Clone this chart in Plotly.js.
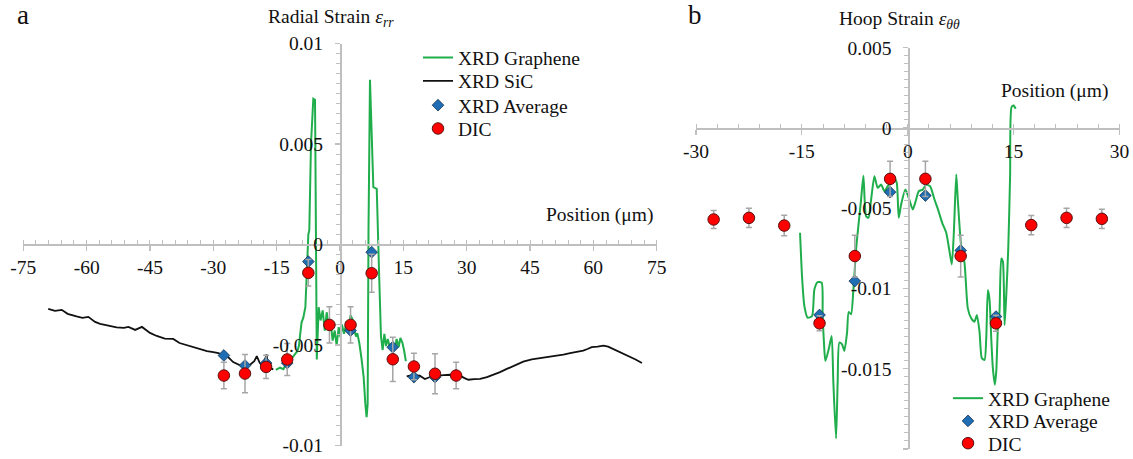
<!DOCTYPE html>
<html><head><meta charset="utf-8">
<script src="https://cdn.plot.ly/plotly-3.0.1.min.js"></script>
<style>html,body{margin:0;padding:0;background:#fff;} #chart{width:1133px;height:459px;}</style>
</head><body><div id="chart"></div>
<script>
// ---------- Panel a: Radial strain ----------
const grapheneRX = [-15.2,-14.2,-13.4,-12.8,-12.0,-11.2,-10.7,-10.1,-9.7,-9.5,-9.1,-8.7,-8.2,-8.0,-7.5,-7.27,-6.87,-6.32,-5.92,-5.84,-5.68,-5.5,-5.05,-4.6,-4.1,-3.6,-3.15,-2.7,-2.2,-1.75,-1.25,-0.8,-0.3,0.1,0.45,0.95,1.6,2.05,2.5,3.0,3.4,3.8,4.1,4.6,5.1,5.6,6.0,6.3,6.55,6.75,7.1,7.5,7.9,8.7,8.9,9.3,9.7,10.1,10.5,10.9,11.3,11.8,12.4,13.0,13.4,13.9,14.3,14.8,15.2,15.6];
const grapheneRY = [-0.00624,-0.00613,-0.0062,-0.00594,-0.00581,-0.00557,-0.00547,-0.00531,-0.00502,-0.00461,-0.00387,-0.00365,-0.00312,-0.0021,0.0005,0.0007,0.0050,0.00725,0.0072,0.0050,0.0007,-0.00572,-0.00312,-0.00378,-0.00328,-0.00428,-0.00337,-0.00411,-0.00387,-0.00478,-0.00428,-0.00502,-0.00411,-0.00461,-0.00398,-0.00444,-0.00382,-0.00428,-0.00353,-0.00375,-0.00428,-0.00458,-0.00441,-0.00494,-0.00569,-0.0066,-0.00793,-0.00859,-0.00793,0.0007,0.00819,0.0055,0.00285,0.00277,0.0007,-0.00174,-0.00456,-0.00525,-0.00445,-0.00505,-0.0047,-0.0051,-0.0049,-0.0052,-0.0047,-0.0051,-0.00465,-0.0049,-0.0053,-0.0058];

const sicLeftX = [-69.1,-67.5,-65.9,-64.5,-62.4,-61.0,-59.6,-58.0,-56.8,-54.8,-52.9,-51.2,-50.1,-48.5,-46.9,-45.0,-43.4,-41.5,-39.5,-38.0,-36.3,-34.7,-33.2,-31.5,-30.0,-28.8,-27.6,-26.5,-25.3,-24.0,-22.9,-21.3,-20.3,-19.7,-19.0,-18.5,-17.8,-17.4,-17.0,-16.4,-15.8];
const sicLeftY = [-0.0032,-0.0033,-0.00325,-0.00345,-0.00358,-0.00365,-0.0036,-0.00385,-0.00395,-0.00405,-0.00412,-0.00415,-0.0041,-0.00425,-0.0041,-0.0044,-0.00455,-0.00468,-0.0047,-0.0049,-0.005,-0.00512,-0.00522,-0.0053,-0.00535,-0.0054,-0.00552,-0.0056,-0.00585,-0.00598,-0.00608,-0.00598,-0.0058,-0.00555,-0.0059,-0.006,-0.00575,-0.00547,-0.0061,-0.00615,-0.00622];
const sicRightX = [15.8,17.0,18.9,20.1,21.5,22.9,24.5,26.1,27.3,28.4,29.5,30.4,31.8,33.2,34.8,36.3,37.9,39.5,41.5,43.4,45.4,47.4,49.3,51.3,52.9,54.5,56.0,57.6,58.6,59.6,61.0,62.4,63.5,65.5,67.0,68.7,70.0,71.5];
const sicRightY = [-0.00656,-0.0065,-0.00653,-0.00669,-0.00658,-0.00653,-0.0065,-0.00648,-0.00652,-0.00653,-0.00665,-0.00673,-0.0067,-0.00669,-0.0066,-0.00649,-0.00635,-0.00619,-0.006,-0.00583,-0.00572,-0.00566,-0.0056,-0.00553,-0.00548,-0.0054,-0.00535,-0.00528,-0.0052,-0.00511,-0.00508,-0.00503,-0.00508,-0.00528,-0.0054,-0.00556,-0.00572,-0.0059];

const avgRX = [-27.5,-22.5,-17.5,-12.5,-7.5,-2.5,2.5,7.5,12.5,17.5,22.5,27.5];
const avgRY = [-0.00552,-0.00602,-0.0059,-0.0059,-0.00085,-0.0040,-0.00428,-0.00038,-0.00511,-0.0066,-0.0066,-0.0065];
const dicRX = [-27.5,-22.5,-17.5,-12.5,-7.5,-2.5,2.5,7.5,12.5,17.5,22.5,27.5];
const dicRY = [-0.00652,-0.00642,-0.00609,-0.00572,-0.00141,-0.0040,-0.0040,-0.00143,-0.00571,-0.00607,-0.00643,-0.00652];
const dicRErr = [0.00066,0.00095,0.00058,0.0008,0.00066,0.0009,0.0009,0.00095,0.0011,0.00066,0.001,0.00066];

// ---------- Panel b: Hoop strain ----------
const grapheneHX = [-15.26,-14.98,-14.65,-14.18,-13.56,-13.23,-12.77,-12.2,-12.06,-11.82,-11.67,-11.2,-10.78,-10.54,-10.16,-9.93,-9.69,-9.31,-8.98,-8.6,-8.37,-8.03,-7.7,-7.32,-6.95,-6.61,-6.28,-5.9,-5.57,-5.19,-4.72,-4.26,-3.77,-3.3,-2.84,-2.35,-1.89,-1.56,-1.28,-0.94,-0.33,0.14,0.71,1.19,1.56,2.13,2.61,3.17,3.79,4.26,4.88,5.45,5.91,6.24,6.53,6.87,7.09,7.57,8.04,8.51,8.99,9.46,9.79,10.17,10.5,10.88,11.12,11.35,11.59,11.83,12.06,12.34,12.54,12.77,13.0,13.25,13.48,13.72,13.96,14.24,14.5,14.7,15.0,15.3];
const grapheneHY = [-0.00653,-0.00923,-0.01109,-0.01182,-0.01172,-0.01006,-0.0096,-0.00964,-0.01172,-0.01379,-0.01452,-0.01379,-0.01296,-0.01586,-0.01934,-0.01586,-0.01337,-0.01348,-0.01389,-0.01275,-0.01147,-0.01161,-0.01006,-0.00757,-0.00591,-0.00446,-0.00297,-0.0055,-0.0056,-0.00446,-0.00301,-0.00373,-0.00353,-0.00394,-0.00363,-0.00342,-0.00317,-0.00342,-0.0056,-0.00477,-0.00384,-0.00435,-0.00508,-0.00446,-0.00394,-0.00384,-0.00353,-0.00363,-0.00446,-0.00504,-0.00591,-0.00653,-0.00767,-0.0085,-0.00653,-0.0029,-0.00446,-0.00736,-0.0084,-0.01124,-0.01186,-0.01207,-0.01165,-0.01269,-0.01435,-0.01445,-0.0131,-0.0101,-0.01072,-0.0131,-0.01497,-0.016,-0.01517,-0.01248,-0.01144,-0.00813,-0.00833,-0.01228,-0.01041,-0.0075,-0.003,0.0013,0.0014,0.0012];

const avgHX = [-12.5,-7.5,-2.5,2.5,7.5,12.5];
const avgHY = [-0.01165,-0.00954,-0.0040,-0.00421,-0.00763,-0.01175];
const dicHX = [-27.5,-22.5,-17.5,-12.5,-7.5,-2.5,2.5,7.5,12.5,17.5,22.5,27.5];
const dicHY = [-0.0057,-0.0056,-0.00608,-0.01217,-0.00798,-0.00317,-0.00317,-0.00798,-0.01217,-0.00605,-0.0056,-0.00566];
const dicHErr = [0.00056,0.0006,0.00064,0.00047,0.0013,0.0011,0.0011,0.0013,0.0005,0.0006,0.0006,0.0006];

// ---------- Tick labels ----------
const xTicksA = [-75,-60,-45,-30,-15,0,15,30,45,60,75];
const xTickTextA = ['-75','-60','-45','-30','-15','0','15','30','45','60','75'];
const yTicksA = [-0.01,-0.005,0,0.005,0.01];
const yTickTextA = ['-0.01','-0.005','0','0.005','0.01'];
const xTicksB = [-30,-15,0,15,30];
const xTickTextB = ['-30','-15','0','15','30'];
const yTicksB = [-0.02,-0.015,-0.01,-0.005,0,0.005];
const yTickTextB = ['-0.02','-0.015','-0.01','-0.005','0','0.005'];

const FONT = 'Liberation Serif, Times New Roman, serif';
const GREEN = '#1fae4b', BLACK = '#111111', BLUE = '#1f6db3', RED = '#ff0000';
const TXT = '#111111';

const diamond = {symbol:'diamond', size:9, color:BLUE, line:{color:'#1b3550', width:0.8}};
const circle = {symbol:'circle', size:11.5, color:RED, line:{color:'#5a1010', width:1}};
const errStyle = arr => ({type:'data', array:arr, visible:true, color:'#a6a6a6', thickness:1.5, width:3});

const traces = [
  {x:grapheneRX, y:grapheneRY, mode:'lines', name:'XRD Graphene', line:{color:GREEN, width:2}, legend:'legend', xaxis:'x', yaxis:'y'},
  {x:sicLeftX, y:sicLeftY, mode:'lines', name:'XRD SiC', legendgroup:'sic', line:{color:BLACK, width:1.8}, legend:'legend3', xaxis:'x', yaxis:'y'},
  {x:sicRightX, y:sicRightY, mode:'lines', name:'XRD SiC', legendgroup:'sic', showlegend:false, line:{color:BLACK, width:1.8}, legend:'legend3', xaxis:'x', yaxis:'y'},
  {x:avgRX, y:avgRY, mode:'markers', name:'XRD Average', marker:diamond, legend:'legend4', xaxis:'x', yaxis:'y'},
  {x:dicRX, y:dicRY, mode:'markers', name:'DIC', marker:circle, error_y:errStyle(dicRErr), legend:'legend5', xaxis:'x', yaxis:'y'},
  {x:grapheneHX, y:grapheneHY, mode:'lines', name:'XRD Graphene', line:{color:GREEN, width:2, shape:'spline', smoothing:0.6}, legend:'legend2', xaxis:'x2', yaxis:'y2'},
  {x:avgHX, y:avgHY, mode:'markers', name:'XRD Average', marker:diamond, legend:'legend6', xaxis:'x2', yaxis:'y2'},
  {x:dicHX, y:dicHY, mode:'markers', name:'DIC', marker:circle, error_y:errStyle(dicHErr), legend:'legend7', xaxis:'x2', yaxis:'y2'}
];

const base = {showgrid:false, zeroline:false, showline:true, linecolor:'#bfbfbf', linewidth:1.5,
  ticks:'outside', ticklen:5, tickwidth:1.2, tickcolor:'#bfbfbf',
  tickfont:{family:FONT, size:19.5, color:TXT}, tickmode:'array', fixedrange:true, anchor:'free'};

const W = 1133, H = 459;
const legendAt = (xpx, toppx) => ({x:xpx/W, y:1-toppx/H, xanchor:'left', yanchor:'top', bgcolor:'rgba(0,0,0,0)',
  font:{family:FONT, size:19.5, color:TXT}, tracegroupgap:0});

const layout = {
  width:W, height:H, margin:{l:0,r:0,t:0,b:0,autoexpand:false}, paper_bgcolor:'#fff', plot_bgcolor:'rgba(0,0,0,0)',
  showlegend:true,
  xaxis:Object.assign({}, base, {domain:[23.3/W, 656.7/W], range:[-75,75], position:1-244/H,
    tickvals:xTicksA, ticktext:xTickTextA, ticklabelstandoff:0,
    minor:{tick0:0, dtick:3, ticks:'inside', ticklen:4, tickwidth:1, tickcolor:'#bfbfbf'}}),
  yaxis:Object.assign({}, base, {domain:[1-445.5/H, 1-43.5/H], range:[-0.01,0.01], position:340/W,
    tickvals:yTicksA, ticktext:yTickTextA, ticklabelstandoff:8,
    minor:{tick0:0, dtick:0.0005, ticks:'outside', ticklen:4, tickwidth:1, tickcolor:'#bfbfbf'}}),
  xaxis2:Object.assign({}, base, {domain:[696/W, 1119.5/W], range:[-30,30], position:1-128.3/H,
    tickvals:xTicksB, ticktext:xTickTextB, ticklabelstandoff:0,
    minor:{tick0:0, dtick:3, ticks:'inside', ticklen:4, tickwidth:1, tickcolor:'#bfbfbf'}}),
  yaxis2:Object.assign({}, base, {domain:[1-449/H, 1-47.7/H], range:[-0.02,0.005], position:908.3/W,
    tickvals:yTicksB, ticktext:yTickTextB, ticklabelstandoff:8,
    minor:{tick0:0, dtick:0.0005, ticks:'outside', ticklen:4, tickwidth:1, tickcolor:'#bfbfbf'}}),
  legend:legendAt(418, 38.3),
  legend3:legendAt(418, 61.7),
  legend4:legendAt(418, 86),
  legend5:legendAt(418, 109.3),
  legend2:legendAt(948, 379),
  legend6:legendAt(948, 401.7),
  legend7:legendAt(948, 424),
  annotations:[
    {text:'a', xref:'paper', yref:'paper', x:15/W, y:1-15/H, xanchor:'left', yanchor:'middle', showarrow:false, font:{family:FONT, size:27, color:TXT}},
    {text:'b', xref:'paper', yref:'paper', x:686/W, y:1-15/H, xanchor:'left', yanchor:'middle', showarrow:false, font:{family:FONT, size:27, color:TXT}},
    {text:'Radial Strain <i>ε</i><sub><i>rr</i></sub>', xref:'paper', yref:'paper', x:331/W, y:1-18/H, xanchor:'center', yanchor:'middle', showarrow:false, font:{family:FONT, size:19.5, color:TXT}},
    {text:'Hoop Strain <i>ε</i><sub><i>θθ</i></sub>', xref:'paper', yref:'paper', x:899/W, y:1-20/H, xanchor:'center', yanchor:'middle', showarrow:false, font:{family:FONT, size:19.5, color:TXT}},
    {text:'Position (μm)', xref:'paper', yref:'paper', x:655/W, y:1-215/H, xanchor:'right', yanchor:'middle', showarrow:false, font:{family:FONT, size:19.5, color:TXT}},
    {text:'Position (μm)', xref:'paper', yref:'paper', x:1110/W, y:1-91/H, xanchor:'right', yanchor:'middle', showarrow:false, font:{family:FONT, size:19.5, color:TXT}}
  ]
};

Plotly.newPlot('chart', traces, layout, {displayModeBar:false, staticPlot:true});
</script></body></html>
